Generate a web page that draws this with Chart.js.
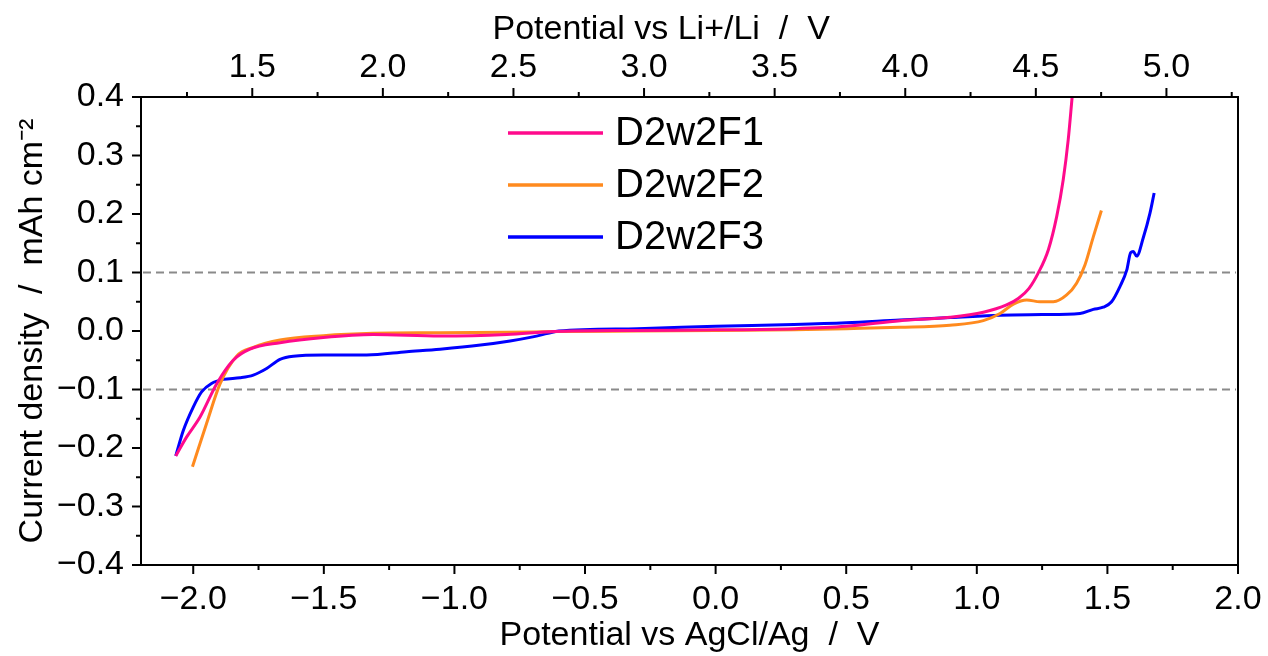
<!DOCTYPE html>
<html><head><meta charset="utf-8">
<script src="https://cdn.jsdelivr.net/npm/chart.js@4/dist/chart.umd.min.js"></script>
<style>html,body{margin:0;padding:0;background:#fff;overflow:hidden}</style>
</head><body>
<canvas id="c" width="1268" height="656"></canvas>
<script>
// ---------- data ----------
const seriesNames = ['D2w2F1', 'D2w2F2', 'D2w2F3'];
const seriesColors = ['#ff0a8c', '#ff8a1e', '#0000ff'];

const f1X = [-2.067, -2.025, -1.974, -1.91, -1.847, -1.783, -1.668, -1.502, -1.311, -1.055, -0.80, -0.62, -0.3, 0.0, 0.3, 0.5, 0.706, 0.897, 1.025, 1.114, 1.16, 1.2, 1.235, 1.274, 1.306, 1.331, 1.350, 1.365];
const f1Y = [-0.2135, -0.181, -0.147, -0.090, -0.050, -0.031, -0.020, -0.011, -0.006, -0.0086, -0.006, -0.001, 0.001, 0.002, 0.004, 0.008, 0.0177, 0.0235, 0.032, 0.0445, 0.056, 0.073, 0.099, 0.139, 0.196, 0.259, 0.327, 0.40];

const f2X = [-2.003, -1.949, -1.897, -1.834, -1.77, -1.668, -1.502, -1.311, -1.055, -0.8, -0.6, -0.3, 0.0, 0.3, 0.5, 0.706, 0.897, 1.025, 1.089, 1.14, 1.191, 1.242, 1.293, 1.344, 1.382, 1.414, 1.446, 1.477];
const f2Y = [-0.232, -0.158, -0.090, -0.043, -0.028, -0.0154, -0.008, -0.004, -0.003, -0.002, -0.001, 0.0, 0.001, 0.002, 0.004, 0.0063, 0.010, 0.0177, 0.030, 0.046, 0.053, 0.050, 0.050, 0.0616, 0.0817, 0.113, 0.161, 0.206];

const f3X = [-2.067, -2.038, -2.0, -1.968, -1.93, -1.885, -1.821, -1.77, -1.719, -1.668, -1.617, -1.502, -1.336, -1.183, -1.055, -0.9, -0.787, -0.70, -0.642, -0.6, -0.3, 0.0, 0.3, 0.5, 0.706, 0.9, 1.089, 1.25, 1.395, 1.446, 1.484, 1.516, 1.548, 1.574, 1.589, 1.599, 1.612, 1.637, 1.663, 1.679];
const f3Y = [-0.2135, -0.170, -0.130, -0.104, -0.0896, -0.0827, -0.080, -0.0753, -0.064, -0.0485, -0.043, -0.041, -0.041, -0.0354, -0.031, -0.024, -0.017, -0.010, -0.004, 0.000, 0.004, 0.008, 0.011, 0.014, 0.019, 0.023, 0.027, 0.028, 0.030, 0.037, 0.0406, 0.050, 0.076, 0.104, 0.134, 0.136, 0.128, 0.159, 0.2015, 0.236];

const refLines = [0.1, -0.1];

// axis ranges and ticks
const xMin = -2.2, xMax = 2.0;
const liOffset = 3.274; // Li+/Li scale = AgCl/Ag scale + offset
const yMin = -0.4, yMax = 0.4;
const xMajorTicks = [-2.0, -1.5, -1.0, -0.5, 0.0, 0.5, 1.0, 1.5, 2.0];
const xTickLabels = ['\u22122.0', '\u22121.5', '\u22121.0', '\u22120.5', '0.0', '0.5', '1.0', '1.5', '2.0'];
const xMinorTicks = [-1.75, -1.25, -0.75, -0.25, 0.25, 0.75, 1.25, 1.75];
const topMajorTicks = [1.5, 2.0, 2.5, 3.0, 3.5, 4.0, 4.5, 5.0];
const topTickLabels = ['1.5', '2.0', '2.5', '3.0', '3.5', '4.0', '4.5', '5.0'];
const topMinorTicks = [1.25, 1.75, 2.25, 2.75, 3.25, 3.75, 4.25, 4.75, 5.25];
const yMajorTicks = [-0.4, -0.3, -0.2, -0.1, 0.0, 0.1, 0.2, 0.3, 0.4];
const yTickLabels = ['\u22120.4', '\u22120.3', '\u22120.2', '\u22120.1', '0.0', '0.1', '0.2', '0.3', '0.4'];
const yMinorTicks = [-0.35, -0.25, -0.15, -0.05, 0.05, 0.15, 0.25, 0.35];

const xTitle = 'Potential vs AgCl/Ag  /  V';
const topTitle = 'Potential vs Li+/Li  /  V' + '\u00A0'.repeat(6);
const yTitle = 'Current density  /  mAh cm\u207B\u00B2';

// ---------- chart ----------
const FONT = "'Liberation Sans', Arial, sans-serif";
const seriesX = [f1X, f2X, f3X];
const seriesY = [f1Y, f2Y, f3Y];

const datasets = seriesNames.map((name, i) => ({
  label: name,
  data: seriesX[i].map((x, k) => ({x, y: seriesY[i][k]})),
  borderColor: seriesColors[i],
  backgroundColor: seriesColors[i],
  borderWidth: 3,
  pointRadius: 0,
  fill: false,
  cubicInterpolationMode: 'monotone',
  xAxisID: 'x', yAxisID: 'y'
}));

const deco = {
  id: 'deco',
  beforeDatasetsDraw(chart) {
    const {ctx, chartArea: a, scales} = chart;
    ctx.save();
    ctx.strokeStyle = '#8a8a8a';
    ctx.lineWidth = 2;
    ctx.setLineDash([8, 5]);
    refLines.forEach(v => {
      const py = scales.y.getPixelForValue(v);
      ctx.beginPath(); ctx.moveTo(a.left + 2, py); ctx.lineTo(a.right - 2, py); ctx.stroke();
    });
    ctx.restore();
  },
  afterDraw(chart) {
    const {ctx, chartArea: a, scales} = chart;
    ctx.save();
    ctx.strokeStyle = '#000';
    ctx.lineWidth = 2;
    ctx.setLineDash([]);
    ctx.strokeRect(a.left, a.top, a.right - a.left, a.bottom - a.top);
    const tick = (x1, y1, x2, y2) => { ctx.beginPath(); ctx.moveTo(x1, y1); ctx.lineTo(x2, y2); ctx.stroke(); };
    xMajorTicks.forEach(v => { const p = scales.x.getPixelForValue(v); tick(p, a.bottom, p, a.bottom + 9); });
    xMinorTicks.forEach(v => { const p = scales.x.getPixelForValue(v); tick(p, a.bottom, p, a.bottom + 5); });
    topMajorTicks.forEach(v => { const p = scales.x2.getPixelForValue(v); tick(p, a.top, p, a.top - 9); });
    topMinorTicks.forEach(v => { const p = scales.x2.getPixelForValue(v); tick(p, a.top, p, a.top - 5); });
    yMajorTicks.forEach(v => { const p = scales.y.getPixelForValue(v); tick(a.left, p, a.left - 9, p); });
    yMinorTicks.forEach(v => { const p = scales.y.getPixelForValue(v); tick(a.left, p, a.left - 5, p); });
    // legend
    ctx.font = '40px ' + FONT;
    ctx.textBaseline = 'middle';
    ctx.textAlign = 'left';
    ctx.lineWidth = 3.5;
    chart.data.datasets.forEach((ds, i) => {
      const ly = a.top + 36 + i * 52;
      ctx.strokeStyle = ds.borderColor;
      tick(a.left + 367, ly, a.left + 462, ly);
      ctx.fillStyle = '#000';
      ctx.fillText(ds.label, a.left + 474, ly + 1);
    });
    ctx.restore();
  }
};

const tickFont = {family: FONT, size: 34};
const noSidePad = s => { s.paddingLeft = 0; s.paddingRight = 0; };

new Chart(document.getElementById('c'), {
  type: 'line',
  data: {datasets},
  plugins: [deco],
  options: {
    responsive: false,
    animation: false,
    devicePixelRatio: 1,
    layout: {padding: {left: 0, right: 30, top: 0, bottom: 0}},
    plugins: {legend: {display: false}, tooltip: {enabled: false}},
    scales: {
      x: {
        type: 'linear', position: 'bottom', min: xMin, max: xMax,
        afterBuildTicks: s => { s.ticks = xMajorTicks.map(v => ({value: v})); },
        afterFit: s => { s.height = 91; noSidePad(s); },
        ticks: {callback: (v, i) => xTickLabels[i], font: tickFont, color: '#000', padding: 14, maxRotation: 0, autoSkip: false},
        grid: {display: false, drawTicks: false},
        border: {display: false},
        title: {display: true, text: xTitle, font: tickFont, color: '#000', padding: {top: 0, bottom: 0}}
      },
      x2: {
        type: 'linear', position: 'top', display: true, min: xMin + liOffset, max: xMax + liOffset,
        afterBuildTicks: s => { s.ticks = topMajorTicks.map(v => ({value: v})); },
        afterFit: s => { s.height = 97; noSidePad(s); },
        ticks: {callback: (v, i) => topTickLabels[i], font: tickFont, color: '#000', padding: 9, maxRotation: 0, autoSkip: false},
        grid: {display: false, drawTicks: false},
        border: {display: false},
        title: {display: true, text: topTitle, font: tickFont, color: '#000', padding: {top: 9, bottom: 0}}
      },
      y: {
        type: 'linear', position: 'left', min: yMin, max: yMax,
        afterBuildTicks: s => { s.ticks = yMajorTicks.map(v => ({value: v})); },
        afterFit: s => { s.width = 141; },
        ticks: {callback: (v, i) => yTickLabels[i], font: tickFont, color: '#000', padding: 17, autoSkip: false},
        grid: {display: false, drawTicks: false},
        border: {display: false},
        title: {display: true, text: yTitle, font: tickFont, color: '#000', padding: {top: 12, bottom: 0}}
      }
    }
  }
});
</script>
</body></html>
